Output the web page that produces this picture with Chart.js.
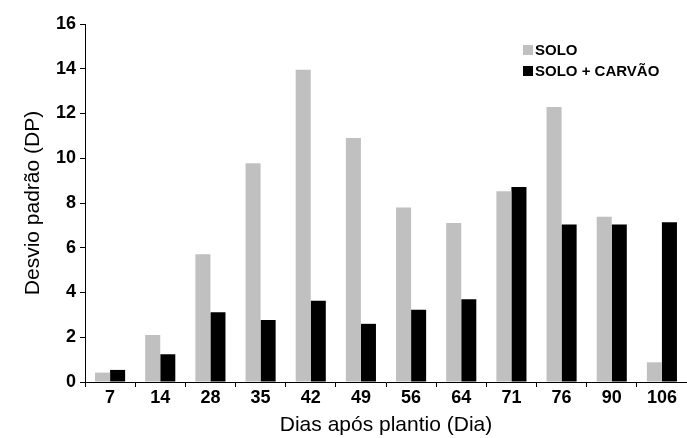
<!DOCTYPE html>
<html>
<head>
<meta charset="utf-8">
<script src="https://cdn.jsdelivr.net/npm/chart.js@4.4.0/dist/chart.umd.min.js"></script>
<style>
    html, body { margin: 0; padding: 0; background: #fff; }
    #wrap { width: 687px; height: 438px; }
</style>
</head>
<body>
<div id="wrap"><canvas id="dpChart"></canvas></div>
<script>
// Desvio padrão por dia após plantio
const dias = ['7', '14', '28', '35', '42', '49', '56', '64', '71', '76', '90', '106'];
const solo = [0.42, 2.1, 5.71, 9.78, 13.96, 10.9, 7.8, 7.11, 8.53, 12.29, 7.38, 0.88];
const soloCarvao = [0.54, 1.24, 3.12, 2.77, 3.63, 2.6, 3.23, 3.7, 8.72, 7.04, 7.04, 7.14];
const yTicks = [0, 2, 4, 6, 8, 10, 12, 14, 16];

const tickFont = { family: "'Liberation Sans', Arial, sans-serif", size: 18, weight: 'bold' };

// simple legend in the top right corner, drawn from the datasets
const cornerLegend = {
    id: 'cornerLegend',
    afterDraw(chart) {
        const ctx = chart.ctx;
        ctx.save();
        ctx.font = "bold 15px 'Liberation Sans', Arial, sans-serif";
        ctx.textBaseline = 'middle';
        chart.data.datasets.forEach((ds, i) => {
            const y = 50 + i * 21;
            ctx.fillStyle = ds.backgroundColor;
            ctx.fillRect(523, y - 5, 10, 10);
            ctx.fillStyle = '#000';
            ctx.fillText(ds.label, 535, y + 1);
        });
        ctx.restore();
    }
};

new Chart(document.getElementById('dpChart'), {
    type: 'bar',
    data: {
        labels: dias,
        datasets: [
            { label: 'SOLO', data: solo, backgroundColor: '#c0c0c0' },
            { label: 'SOLO + CARVÃO', data: soloCarvao, backgroundColor: '#000000' }
        ]
    },
    options: {
        responsive: true,
        maintainAspectRatio: false,
        animation: false,
        categoryPercentage: 0.6,
        barPercentage: 1.0,
        layout: { padding: { top: 24, right: 0, left: 0, bottom: 0 } },
        plugins: {
            legend: { display: false },
            tooltip: { enabled: false }
        },
        scales: {
            x: {
                grid: { drawOnChartArea: false, offset: true, tickLength: 5, color: '#000' },
                border: { color: '#000', width: 1 },
                ticks: { color: '#000', font: tickFont, padding: 0 },
                title: {
                    display: true,
                    text: 'Dias após plantio (Dia)',
                    color: '#000',
                    font: { family: "'Liberation Sans', Arial, sans-serif", size: 21 },
                    padding: { top: 6, bottom: 0 }
                },
                afterFit(scale) { scale.height = 56; }
            },
            y: {
                min: 0,
                max: 16,
                afterBuildTicks(scale) { scale.ticks = yTicks.map(v => ({ value: v })); },
                grid: { drawOnChartArea: false, tickLength: 5, color: '#000' },
                border: { color: '#000', width: 1 },
                ticks: { color: '#000', font: tickFont, padding: 4 },
                title: {
                    display: true,
                    text: 'Desvio padrão (DP)',
                    color: '#000',
                    font: { family: "'Liberation Sans', Arial, sans-serif", size: 21 },
                    padding: { top: 21, bottom: 0 }
                },
                afterFit(scale) { scale.width = 85; }
            }
        }
    },
    plugins: [cornerLegend]
});
</script>
</body>
</html>
